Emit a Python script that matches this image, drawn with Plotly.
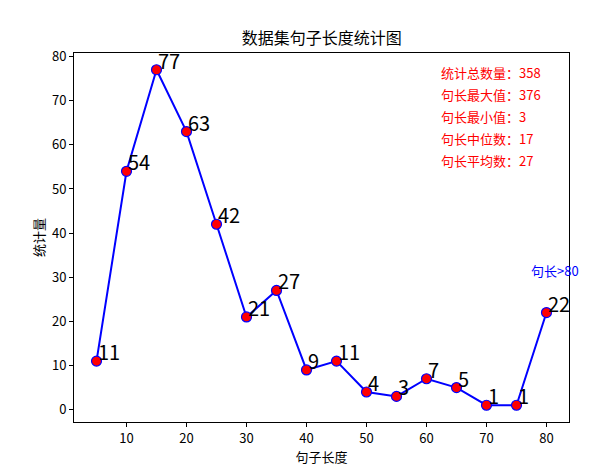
import plotly.graph_objects as go

lengths = [5, 10, 15, 20, 25, 30, 35, 40, 45, 50, 55, 60, 65, 70, 75, 80]
counts = [11, 54, 77, 63, 42, 21, 27, 9, 11, 4, 3, 7, 5, 1, 1, 22]
stats_lines = ["统计总数量：358", "句长最大值：376", "句长最小值：3", "句长中位数：17", "句长平均数：27"]
stats_y = [75, 70, 65, 60, 55]
FONT = "Noto Sans CJK SC, SimHei, sans-serif"

fig = go.Figure(
    go.Scatter(
        x=lengths,
        y=counts,
        mode="lines+markers",
        line=dict(color="blue", width=2),
        marker=dict(color="red", size=10, line=dict(color="blue", width=1.2)),
        showlegend=False,
    )
)

for x, y in zip(lengths, counts):
    fig.add_annotation(
        x=x, y=y, text=str(y), showarrow=False, xanchor="left", yanchor="bottom",
        yshift=-7, xshift=-1, font=dict(size=20, color="black", family=FONT),
    )

for line, y in zip(stats_lines, stats_y):
    fig.add_annotation(
        x=62, y=y, text=line, showarrow=False, xanchor="left", yanchor="bottom",
        yshift=-5, font=dict(size=13, color="red", family=FONT),
    )

fig.add_annotation(
    x=77, y=30, text="句长>80", showarrow=False, xanchor="left", yanchor="bottom",
    yshift=-5, font=dict(size=13, color="blue", family=FONT),
)

axis_common = dict(
    showgrid=False, zeroline=False, showline=True, linecolor="black", linewidth=1,
    mirror=True, ticks="outside", ticklen=4, tickcolor="black",
    tickfont=dict(size=13, color="black", family=FONT),
)
fig.update_xaxes(range=[1.25, 83.75], tickvals=list(range(10, 81, 10)),
                 title=dict(text="句子长度", font=dict(size=13, color="black", family=FONT), standoff=6),
                 **axis_common)
fig.update_yaxes(range=[-2.8, 80.8], tickvals=list(range(0, 81, 10)),
                 title=dict(text="统计量", font=dict(size=13, color="black", family=FONT), standoff=4),
                 **axis_common)

# the page body adds an 8px offset, so margins are shifted to compensate
fig.update_layout(
    width=609, height=470,
    margin=dict(l=66, r=48, t=45, b=56),
    paper_bgcolor="white", plot_bgcolor="white",
    title=dict(text="数据集句子长度统计图", x=0.515, xanchor="center", y=0.935, yanchor="middle",
               font=dict(size=16, color="black", family=FONT)),
)

fig.write_html("out.html")
